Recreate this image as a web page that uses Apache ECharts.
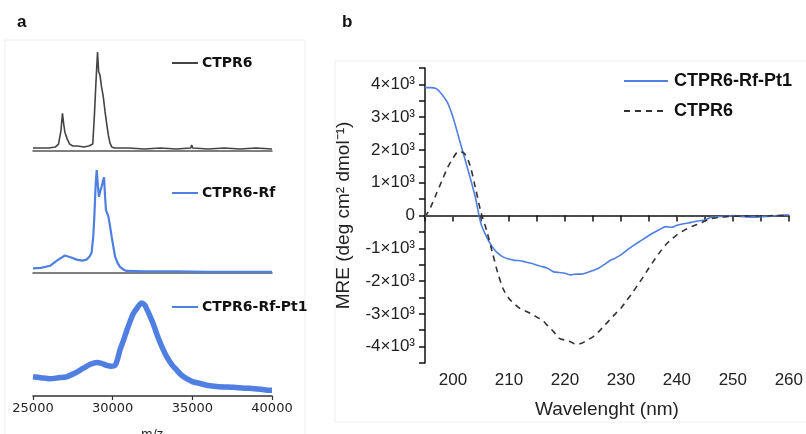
<!DOCTYPE html>
<html>
<head>
<meta charset="utf-8">
<script src="https://cdn.jsdelivr.net/npm/echarts@6/dist/echarts.min.js"></script>
<style>html,body{margin:0;padding:0;background:#fff;}#c{width:806px;height:434px;}</style>
</head>
<body>
<div id="c"></div>
<script>
// ---- Panel a: mass spectra (m/z, normalised intensity) ----
const msTicks = [25000, 30000, 35000, 40000];
const msCTPR6 = [[25000,0.03],[25500,0.03],[26000,0.03],[26400,0.04],[26600,0.07],[26750,0.2],[26850,0.38],[26920,0.28],[27000,0.19],[27150,0.12],[27300,0.07],[27500,0.05],[27800,0.05],[28200,0.04],[28500,0.05],[28750,0.07],[28850,0.35],[28950,0.69],[29050,1.0],[29120,0.8],[29200,0.77],[29300,0.65],[29410,0.55],[29520,0.4],[29620,0.28],[29730,0.16],[29830,0.08],[29950,0.04],[30100,0.03],[31000,0.03],[32000,0.02],[33000,0.03],[34000,0.02],[34900,0.03],[34960,0.06],[35020,0.03],[36000,0.02],[37000,0.03],[38000,0.02],[39000,0.03],[40000,0.02]];
const msCTPR6Rf = [[25000,0.045],[25500,0.05],[26070,0.07],[26500,0.12],[27000,0.17],[27400,0.15],[27740,0.13],[28100,0.12],[28370,0.13],[28550,0.16],[28680,0.2],[28780,0.35],[28850,0.55],[28930,0.85],[29000,1.0],[29070,0.85],[29140,0.74],[29230,0.8],[29310,0.84],[29400,0.9],[29460,0.93],[29520,0.75],[29580,0.61],[29730,0.55],[29840,0.45],[29940,0.35],[30050,0.25],[30150,0.16],[30300,0.1],[30460,0.06],[30700,0.03],[30880,0.02],[32000,0.015],[34000,0.015],[36000,0.01],[38000,0.01],[40000,0.01]];
const msCTPR6RfPt1 = [[25000,0.2],[25500,0.19],[26070,0.18],[26600,0.19],[27110,0.2],[27650,0.24],[28160,0.29],[28600,0.33],[29000,0.35],[29300,0.34],[29620,0.32],[29900,0.31],[30150,0.32],[30300,0.38],[30460,0.48],[30680,0.58],[30880,0.68],[31100,0.78],[31300,0.86],[31550,0.92],[31820,0.97],[32000,0.95],[32130,0.91],[32350,0.83],[32550,0.75],[32760,0.65],[32970,0.56],[33180,0.48],[33390,0.41],[33700,0.33],[34020,0.27],[34300,0.22],[34640,0.18],[35000,0.15],[35480,0.13],[36000,0.11],[36520,0.1],[37570,0.09],[38610,0.08],[39300,0.07],[39870,0.06],[40000,0.06]];

// ---- Panel b: CD spectra (nm, MRE) ----
const wavelengths = [195,196,197,198,199,200,201,202,203,204,205,206,207,208,209,210,211,212,213,214,215,216,217,218,219,220,221,222,223,224,225,226,227,228,229,230,231,232,233,234,235,236,237,238,239,240,241,242,243,244,245,246,247,248,249,250,251,252,253,254,255,256,257,258,259,260];
const cdPt1 = [3900,3900,3870,3700,3450,3000,2400,1800,1200,550,-250,-650,-950,-1150,-1270,-1330,-1370,-1380,-1420,-1460,-1520,-1560,-1620,-1720,-1740,-1760,-1810,-1790,-1790,-1740,-1680,-1610,-1500,-1380,-1300,-1200,-1070,-940,-830,-720,-610,-510,-420,-340,-360,-300,-260,-230,-190,-160,-140,-60,-40,-30,-30,0,-20,-40,-50,-50,-40,-30,-20,0,10,20];
const cdCTPR6 = [-50,250,650,1050,1450,1750,1950,1900,1550,850,100,-450,-1100,-1750,-2250,-2530,-2700,-2840,-2920,-3000,-3100,-3200,-3380,-3550,-3750,-3800,-3850,-3930,-3900,-3800,-3700,-3550,-3370,-3180,-3000,-2830,-2600,-2370,-2120,-1870,-1600,-1350,-1110,-890,-730,-590,-480,-390,-310,-250,-170,-100,-70,-50,-30,-20,-20,-20,-15,-10,-10,-10,-5,0,0,0];
const cdTicksMajor = 10;

const blue = '#4f7fe0';
const fa = 'DejaVu Sans';
const fb = 'Liberation Sans, Arial, sans-serif';

const chart = echarts.init(document.getElementById('c'), null, {renderer:'canvas'});

function msX(idx, showLabels) {
  return {
    type:'value', gridIndex: idx, min:msTicks[0], max:msTicks[msTicks.length-1], interval:msTicks[1]-msTicks[0],
    axisLine:{show:true, lineStyle:{color: showLabels ? '#333' : '#555', width:1.5}},
    axisTick:{show:showLabels, length:4, lineStyle:{color:'#333', width:1.2}},
    axisLabel:{show:showLabels, fontFamily:fa, fontSize:13, color:'#222', margin:6, formatter:v=>String(v)},
    splitLine:{show:false}
  };
}
function msY(idx) {
  return {type:'value', gridIndex: idx, min:0, max:1, show:false, splitLine:{show:false}};
}
const legA = {itemWidth:26, itemHeight:14, itemGap:5, itemStyle:{opacity:0},
  textStyle:{fontFamily:fa, fontWeight:'bold', fontSize:14, color:'#111', padding:[0,0,0,-1]}};

const option = {
  animation:false,
  backgroundColor:'#fff',
  graphic:[
    {type:'rect', shape:{x:5, y:40, width:300, height:400}, style:{fill:'none', stroke:'#eeeeee', lineWidth:1}},
    {type:'rect', shape:{x:335, y:61, width:480, height:361}, style:{fill:'none', stroke:'#eeeeee', lineWidth:1}},
    {type:'text', left:17, top:14, style:{text:'a', font:'bold 17px Liberation Sans', fill:'#111'}},
    {type:'text', left:342, top:14, style:{text:'b', font:'bold 17px Liberation Sans', fill:'#111'}},
    {type:'text', left:141, top:429, style:{text:'m/z', font:'12px DejaVu Sans', fill:'#222'}}
  ],
  grid:[
    {left:33, width:239, top:52, height:99},
    {left:33, width:239, top:170, height:103},
    {left:33, width:239, top:300, height:96},
    {left:425, right:16, top:68, bottom:71}
  ],
  legend:[
    Object.assign({data:['CTPR6 (MS)'], left:166, top:51, formatter:()=> 'CTPR6'}, legA),
    Object.assign({data:['CTPR6-Rf'], left:166, top:181}, legA),
    Object.assign({data:['CTPR6-Rf-Pt1 (MS)'], left:166, top:295, formatter:()=> 'CTPR6-Rf-Pt1'}, legA),
    {data:['CTPR6-Rf-Pt1', 'CTPR6'], left:618, top:67, orient:'vertical', itemWidth:44, itemHeight:14, itemGap:12, itemStyle:{opacity:0},
     textStyle:{fontFamily:fb, fontWeight:'bold', fontSize:18, color:'#111', padding:[0,0,0,1]}}
  ],
  xAxis:[
    msX(0,false), msX(1,false), msX(2,true),
    {type:'value', gridIndex:3, min:195, max:260, interval:5,
     axisLine:{lineStyle:{color:'#111', width:1.5}},
     axisTick:{length:6, lineStyle:{color:'#111', width:1.5}},
     axisLabel:{fontFamily:fb, fontSize:17, color:'#222', margin:9, formatter:v=> (v % cdTicksMajor === 0 ? String(v) : '')},
     splitLine:{show:false},
     name:'Wavelenght (nm)', nameLocation:'middle', nameGap:37,
     nameTextStyle:{fontFamily:fb, fontSize:19, color:'#222'}}
  ],
  yAxis:[
    msY(0), msY(1), msY(2),
    {type:'value', gridIndex:3, min:-4500, max:4500, interval:500,
     axisLine:{show:true, lineStyle:{color:'#111', width:1.5}},
     axisTick:{show:true, length:6, lineStyle:{color:'#111', width:1.5}},
     axisLabel:{fontFamily:fb, fontSize:17, color:'#222', margin:10,
       formatter:v=> { if (v % 1000 !== 0) return ''; if (v === 0) return '0'; return (v/1000) + '×10³'; }},
     splitLine:{show:false},
     name:'MRE (deg cm² dmol⁻¹)', nameLocation:'middle', nameGap:72, nameRotate:90,
     nameTextStyle:{fontFamily:fb, fontSize:19, color:'#222'}}
  ],
  series:[
    {name:'CTPR6 (MS)', type:'line', xAxisIndex:0, yAxisIndex:0, data:msCTPR6, showSymbol:false, symbol:'none',
     lineStyle:{color:'#444', width:1.6}, itemStyle:{color:'#777'}},
    {name:'CTPR6-Rf', type:'line', xAxisIndex:1, yAxisIndex:1, data:msCTPR6Rf, showSymbol:false, symbol:'none',
     lineStyle:{color:blue, width:2.2}, itemStyle:{color:blue}},
    {name:'CTPR6-Rf-Pt1 (MS)', type:'line', xAxisIndex:2, yAxisIndex:2, data:msCTPR6RfPt1, showSymbol:false, symbol:'none', smooth:0.3,
     lineStyle:{color:blue, width:5.5}, itemStyle:{color:blue}},
    {name:'CTPR6-Rf-Pt1', type:'line', xAxisIndex:3, yAxisIndex:3, data:wavelengths.map((w,i)=>[w, cdPt1[i]]), showSymbol:false, symbol:'none', smooth:0.3,
     lineStyle:{color:blue, width:1.6}, itemStyle:{color:blue},
     markLine:{silent:true, symbol:'none', label:{show:false}, lineStyle:{color:'#555', type:[1.5,7.5], width:1.8}, data:[{yAxis:0}]}},
    {name:'CTPR6', type:'line', xAxisIndex:3, yAxisIndex:3, data:wavelengths.map((w,i)=>[w, cdCTPR6[i]]), showSymbol:false, symbol:'none', smooth:0.3,
     lineStyle:{color:'#333', width:1.6, type:[6,5]}, itemStyle:{color:'#333'}}
  ]
};
chart.setOption(option);
</script>
</body>
</html>
